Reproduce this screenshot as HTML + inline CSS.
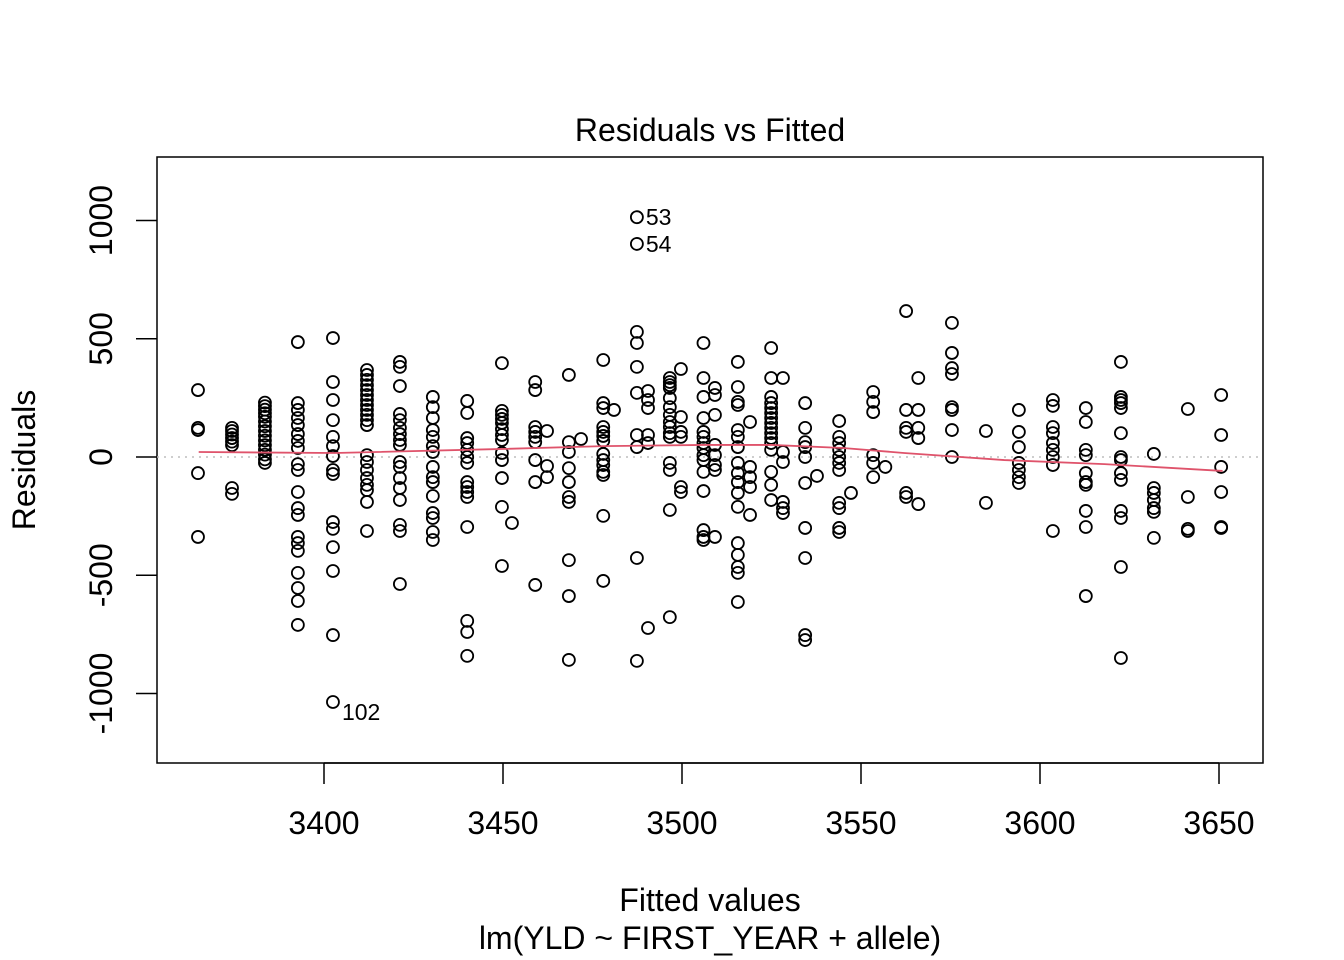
<!DOCTYPE html>
<html><head><meta charset="utf-8"><style>
html,body{margin:0;padding:0;background:#fff;}
svg{display:block;font-family:"Liberation Sans",Arial,sans-serif;}
</style></head><body>
<svg id="chart" width="1344" height="960" viewBox="0 0 1344 960" xmlns="http://www.w3.org/2000/svg">
<rect width="1344" height="960" fill="#fff"/>
<text x="710" y="141" font-size="32" text-anchor="middle">Residuals vs Fitted</text>
<rect x="157" y="157" width="1106" height="606" fill="none" stroke="#000" stroke-width="1.5"/>
<g id="xaxis"></g>
<g id="yaxis"></g>
<text x="710" y="911" font-size="32" text-anchor="middle">Fitted values</text>
<text x="710" y="949" font-size="32" text-anchor="middle">lm(YLD ~ FIRST_YEAR + allele)</text>
<text x="0" y="0" font-size="32" text-anchor="middle" transform="translate(35,460) rotate(-90)">Residuals</text>
<g id="marks"></g>
</svg>
<script>
// column fitted values (x) and residuals per column
const colFitted = [3364.8,3374.3,3383.5,3392.7,3402.5,3412.0,3421.2,3430.4,3440.0,3449.7,3452.5,3459.0,3462.3,3468.4,3471.8,3478.0,3481.0,3487.4,3490.5,3496.6,3499.7,3506.0,3509.2,3515.6,3519.0,3524.9,3528.2,3534.4,3537.7,3543.9,3547.2,3553.4,3556.8,3562.6,3566.0,3575.4,3584.9,3594.1,3603.6,3612.8,3622.6,3631.8,3641.3,3650.6];
const colResid = [
 [283,123,114,-68,-338],
 [123,110,95,80,65,50,-131,-156],
 [230,215,200,185,170,150,130,110,90,70,50,30,10,-10,-25],
 [486,228,199,165,135,97,68,38,-30,-55,-148,-216,-245,-338,-364,-397,-490,-554,-609,-710],
 [503,317,241,156,85,46,4,-55,-72,-275,-304,-381,-482,-753,-1036],
 [368,347,326,304,283,262,241,220,199,178,156,135,8,-21,-55,-89,-118,-140,-190,-313],
 [402,381,300,182,156,123,97,72,51,-21,-42,-89,-131,-182,-287,-313,-537],
 [254,211,165,114,85,46,21,-42,-85,-106,-165,-237,-258,-317,-351],
 [237,186,80,59,30,0,-25,-106,-127,-148,-169,-296,-693,-740,-841],
 [397,195,178,161,144,118,93,72,17,-13,-89,-211,-461],
 [-279],
 [317,283,127,106,85,63,-13,-106,-541],
 [110,-38,-85],
 [347,63,21,-47,-106,-169,-190,-436,-588,-858],
 [76],
 [410,228,207,127,106,89,68,13,-13,-34,-63,-76,-249,-524],
 [199],
 [1014,901,529,482,381,271,93,42,-427,-862],
 [279,241,207,93,59,-723],
 [334,317,304,292,249,211,178,148,127,101,85,-25,-55,-224,-677],
 [372,169,106,85,-127,-148],
 [482,334,254,165,106,85,59,38,8,-13,-63,-144,-309,-338,-351],
 [292,262,178,51,8,-34,-55,-338],
 [402,296,233,220,114,85,42,-25,-68,-106,-152,-211,-364,-414,-465,-490,-613],
 [148,-42,-85,-127,-245],
 [461,334,254,228,207,186,165,144,123,101,80,59,30,-63,-118,-182],
 [334,21,-21,-190,-216,-237],
 [228,123,63,42,0,-110,-300,-427,-753,-774],
 [-80],
 [152,85,59,30,0,-25,-55,-194,-216,-300,-317],
 [-152],
 [275,233,190,8,-25,-85],
 [-42],
 [617,199,123,106,-152,-169],
 [334,199,123,80,-199],
 [567,440,376,351,211,199,114,0],
 [110,-194],
 [199,106,42,-25,-55,-85,-110],
 [241,216,127,101,59,30,0,-34,-313],
 [207,148,30,8,-68,-106,-118,-228,-296,-588],
 [402,254,241,228,207,101,0,-13,-68,-97,-228,-258,-465,-850],
 [13,-131,-152,-182,-216,-232,-342],
 [203,-169,-304,-313],
 [262,93,-42,-148,-296,-300]
];
const smoothX = [3365,3403,3450,3478,3506,3525,3545,3562,3590,3618,3651];
const smoothY = [21,17,34,46,51,51,38,17,-13,-30,-59];
const labelNames = ["53","54","102"];
const labelX = [3487.4,3487.4,3402.5];
const labelY = [1014,901,-1036];
const xTicks = [3400,3450,3500,3550,3600,3650];
const yTicks = [-1000,-500,0,500,1000];

const NS="http://www.w3.org/2000/svg";
const sx = v => 324 + (v-3400)*3.58;
const sy = v => 457 - v*0.2365;
function mk(tag, attrs, parent){const e=document.createElementNS(NS,tag);for(const k in attrs)e.setAttribute(k,attrs[k]);parent.appendChild(e);return e;}
const xa=document.getElementById('xaxis'), ya=document.getElementById('yaxis'), marks=document.getElementById('marks');
mk('line',{x1:sx(3400),x2:sx(3650),y1:763,y2:763,stroke:'#000','stroke-width':1.5},xa);
xTicks.forEach(t=>{
  const l=mk('line',{x1:sx(t),x2:sx(t),y1:763,y2:784,stroke:'#000','stroke-width':1.5},xa);
  
  
  const tx=mk('text',{x:sx(t),y:834,'font-size':32,'text-anchor':'middle'},xa);
  tx.textContent=t;
  
  
});
yTicks.forEach(t=>{
  const l=mk('line',{x1:136,x2:157,y1:sy(t),y2:sy(t),stroke:'#000','stroke-width':1.5},ya);
  
  
  const tx=mk('text',{x:0,y:0,'font-size':32,'text-anchor':'middle',transform:`translate(112,${sy(t)}) rotate(-90)`},ya);
  tx.textContent=t;
  
  
});
const zl=mk('line',{x1:157,x2:1263,y1:sy(0),y2:sy(0),stroke:'#bebebe','stroke-width':1.5,'stroke-dasharray':'2,5'},marks);


colFitted.forEach((f,i)=>{
  colResid[i].forEach(r=>{
    const c=mk('circle',{cx:sx(f),cy:sy(r),r:6,fill:'none',stroke:'#000','stroke-width':1.8},marks);
    
    
  });
});
const pts=smoothX.map((x,i)=>sx(x)+','+sy(smoothY[i])).join(' ');
const sm=mk('polyline',{points:pts,fill:'none',stroke:'#DF536B','stroke-width':1.8},marks);


labelNames.forEach((n,i)=>{
  const t=mk('text',{x:sx(labelX[i])+9,y:sy(labelY[i])+(i==2?18:8),'font-size':23},marks);
  t.textContent=n;
  
  
});
</script>
</body></html>
